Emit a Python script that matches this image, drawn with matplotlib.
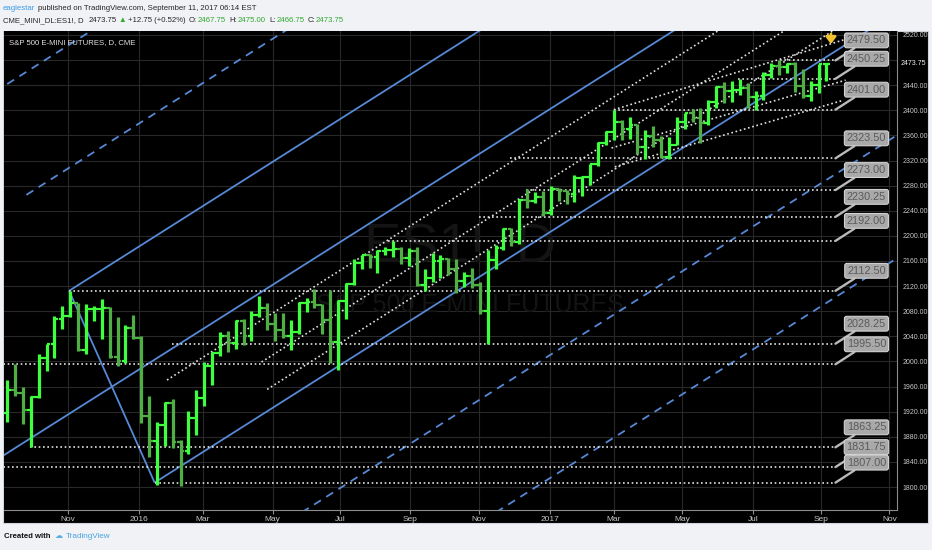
import matplotlib
matplotlib.use("Agg")
import matplotlib.pyplot as plt
import matplotlib.dates as mdates
import numpy as np
import pandas as pd
from matplotlib import font_manager
from matplotlib.patches import Rectangle
from matplotlib.transforms import IdentityTransform

# weekly ES1! bars (week ending Friday)
week_end = pd.date_range("2015-09-11", "2017-09-08", freq="W-FRI")
opens = [1918, 1955, 1950, 1922, 1944, 2006, 2027, 2068, 2073, 2093, 2018, 2083, 2084, 2085, 2007, 2000,
         2054, 2038, 1913, 1874, 1899, 1934, 1871, 1858, 1910, 1941, 1993, 2014, 2040, 2029, 2065, 2040,
         2074, 2085, 2059, 2050, 2041, 2047, 2093, 2094, 2090, 2066, 2031, 2097, 2123, 2156, 2169, 2167,
         2176, 2178, 2179, 2165, 2176, 2122, 2133, 2160, 2163, 2148, 2128, 2136, 2121, 2080, 2161, 2180,
         2211, 2190, 2257, 2256, 2262,
         2236, 2274, 2271, 2267, 2292, 2294, 2314, 2348, 2366, 2381, 2370, 2376, 2341, 2359, 2352, 2326,
         2345, 2381, 2395, 2387, 2379, 2413, 2437, 2430, 2432, 2436, 2421, 2423, 2457, 2470, 2469, 2473,
         2438, 2422, 2440, 2473]
highs = [1970, 1995.5, 1960, 1945, 2012, 2027, 2072, 2088, 2112.5, 2093, 2091, 2089, 2100, 2086, 2071, 2058,
         2074, 2040, 1945, 1903, 1935, 1940, 1875, 1921, 1955, 1999, 2015, 2047, 2048, 2066, 2068, 2080,
         2104, 2093, 2077, 2077, 2066, 2094, 2101, 2115, 2092, 2114, 2098, 2125, 2163, 2170, 2171, 2177,
         2183, 2192, 2182, 2180, 2183, 2147, 2173, 2169, 2164, 2163, 2143, 2149, 2126, 2177, 2186, 2212,
         2212, 2258, 2275, 2270, 2271,
         2279, 2277, 2273, 2297, 2296, 2315, 2350, 2367, 2401, 2384, 2389, 2378, 2368, 2375, 2359, 2357,
         2390, 2396, 2402, 2403, 2416, 2439, 2445, 2446, 2450.25, 2443, 2430, 2461, 2475, 2479.5, 2476, 2477,
         2466, 2447, 2474, 2475]
lows = [1903, 1945, 1900, 1863.25, 1942, 1985, 2006, 2051, 2070, 2017, 2012, 2064, 2036, 2005, 1993, 1997,
        2035, 1902, 1848, 1804, 1866, 1862, 1802, 1852, 1883, 1929, 1962, 2008, 2015, 2020, 2026, 2032,
        2070, 2050, 2033, 2038, 2019, 2044, 2079, 2085, 2043, 1998, 1986, 2068, 2122, 2148, 2149, 2141,
        2169, 2167, 2155, 2152, 2120, 2112, 2127, 2133, 2137, 2109, 2118, 2117, 2075, 2028.25, 2148, 2178,
        2184, 2187, 2245, 2252, 2232,
        2234, 2255, 2251, 2254, 2264, 2281, 2312, 2345, 2353, 2352, 2354, 2330, 2322, 2341, 2323.5, 2322,
        2345, 2371, 2382, 2348, 2376, 2404, 2412, 2413, 2424, 2403, 2401, 2417, 2451, 2456, 2460, 2429,
        2419, 2415, 2427, 2446]
closes = [1955, 1950, 1922, 1944, 2006, 2027, 2068, 2073, 2093, 2018, 2083, 2084, 2085, 2007, 2000, 2054,
          2038, 1913, 1874, 1899, 1934, 1871, 1858, 1910, 1941, 1993, 2014, 2040, 2029, 2065, 2040, 2074,
          2085, 2059, 2050, 2041, 2047, 2093, 2094, 2090, 2066, 2031, 2097, 2123, 2156, 2169, 2167, 2176,
          2178, 2179, 2165, 2176, 2122, 2133, 2160, 2163, 2148, 2128, 2136, 2121, 2080, 2161, 2180, 2211,
          2190, 2257, 2256, 2262, 2236,
          2274, 2271, 2267, 2292, 2294, 2314, 2348, 2366, 2381, 2370, 2376, 2341, 2359, 2352, 2326, 2345,
          2381, 2395, 2387, 2379, 2413, 2437, 2430, 2432, 2436, 2421, 2423, 2457, 2470, 2469, 2473, 2438,
          2422, 2440, 2473, 2473.75]

# horizontal price levels and the date each dotted level starts
levels = [2479.50, 2450.25, 2401.00, 2323.50, 2273.00, 2230.25, 2192.00,
          2112.50, 2028.25, 1995.50, 1863.25, 1831.75, 1807.00]
level_start = ["2017-07-27", "2017-06-19", "2017-03-01", "2016-11-29", "2016-12-13", "2016-11-01",
               "2016-08-12", "2015-11-03", "2016-02-02", "2015-08-20", "2015-09-29", "2015-08-20",
               "2016-01-18"]
level_end = "2017-09-14"

# parallel channel anchors
chan_top = ("2015-11-03", 2112.50)
chan_top_ref = ("2016-10-31", 2524.8)
chan_low = ("2016-01-18", 1807.00)
mid_start = "2015-08-20"
ext_up_start = ["2015-09-09", "2015-09-26"]

# dotted lines parallel to the channel (start date, start price)
inner_lines = [("2016-01-29", 1970.4), ("2016-04-22", 1999.1), ("2016-04-27", 1955.5)]
# dotted fan lines drawn from the March 2017 top
fans = [(("2017-03-01", 2401.0), ("2017-09-21", 2512.0)),
        (("2017-02-27", 2340.0), ("2017-09-23", 2448.0)),
        (("2017-03-02", 2310.0), ("2017-09-21", 2416.0))]

price_ticks = [1800, 1840, 1880, 1920, 1960, 2000, 2040, 2080, 2120, 2160, 2200,
               2240, 2280, 2320, 2360, 2400, 2440, 2520]
grid_prices = price_ticks + [2480]
time_ticks = ["2015-11-02", "2016-01-04", "2016-03-01", "2016-05-02", "2016-07-01", "2016-09-01",
              "2016-11-01", "2017-01-03", "2017-03-01", "2017-05-01", "2017-07-03", "2017-09-01",
              "2017-11-01"]
time_labels = ["Nov", "2016", "Mar", "May", "Jul", "Sep", "Nov", "2017", "Mar", "May", "Jul", "Sep", "Nov"]
last_price = 2473.75

names = {f.name for f in font_manager.fontManager.ttflist}
narrow = "Liberation Sans Narrow" in names
COND = "Liberation Sans Narrow" if narrow else "Liberation Sans"
k = 1.0 if narrow else 0.82

BLUE = "#5689d6"
DOT = "#e2e2e2"
UP = "#3dff3d"
DN = "#4fae44"

d = mdates.datestr2num
W_PX, H_PX = 932, 550
fig = plt.figure(figsize=(W_PX / 100, H_PX / 100), dpi=100, facecolor="#f0f2f6")
fig.patches.append(Rectangle((3 / W_PX, 27 / H_PX), 925 / W_PX, 492 / H_PX,
                             transform=fig.transFigure, fc="black", ec="#cfd3da", lw=0.8, zorder=-10))
ax = fig.add_axes([4 / W_PX, 40 / H_PX, 893 / W_PX, 479 / H_PX])
ax.set_facecolor("black")

x_nov = d("2015-11-02")
ppd = 1.1253
ax.set_xlim(x_nov - 64 / ppd, x_nov + 829 / ppd)
ax.set_ylim(1763.4, 2526.3)
x_right = x_nov + 829 / ppd

for p in grid_prices:
    ax.axhline(p, color="#282828", lw=0.8, zorder=0.5)
for t in time_ticks:
    ax.axvline(d(t), color="#282828", lw=0.8, zorder=0.5)

# watermark
ax.text(x_nov + 392 / ppd, 2181, "ES1!, D", ha="center", va="center", fontsize=49 * k,
        family=COND, color="#141414", zorder=0.8)
ax.text(x_nov + 402 / ppd, 2090, "S&P 500 E-MINI FUTURES", ha="center", va="center",
        fontsize=22 * k, family=COND, color="#141414", zorder=0.8)

# channel
t0, p0 = d(chan_top[0]), chan_top[1]
slope = (chan_top_ref[1] - p0) / (d(chan_top_ref[0]) - t0)
tl, pl = d(chan_low[0]), chan_low[1]
width = p0 + slope * (tl - t0) - pl


def upper(x):
    return p0 + slope * (np.asarray(x) - t0)


def seg(xa, xb, f, **kw):
    xs = np.array([xa, xb])
    ax.plot(xs, f(xs), **kw)


solid = dict(color=BLUE, lw=1.3, zorder=3, solid_capstyle="butt")
dashed = dict(color=BLUE, lw=1.3, zorder=3, ls=(0, (4.5, 3.5)))
dotted = dict(color=DOT, lw=1.2, zorder=3, ls=(0, (1, 1.6)))

seg(t0, x_right, upper, **solid)
seg(tl, x_right, lambda x: upper(x) - width, **solid)
seg(d(mid_start), x_right, lambda x: upper(x) - width / 2, **solid)
ax.plot([t0, tl], [p0, pl], **solid)
seg(d(ext_up_start[0]), x_right, lambda x: upper(x) + width, **dashed)
seg(d(ext_up_start[1]), x_right, lambda x: upper(x) + width / 2, **dashed)
seg(tl, x_right, lambda x: upper(x) - 1.5 * width, **dashed)
seg(tl, x_right, lambda x: upper(x) - 2 * width, **dashed)

for ds, ps in inner_lines:
    xs = np.array([d(ds), x_right])
    ax.plot(xs, ps + slope * (xs - d(ds)), **dotted)
for (da, pa), (db, pb) in fans:
    ax.plot([d(da), d(db)], [pa, pb], **dotted)

xe = d(level_end)
for lvl, st in zip(levels, level_start):
    ax.plot([d(st), xe], [lvl, lvl], **dotted)

# weekly OHLC bars
xc = mdates.date2num(week_end) - 2
o, h, lo, c = map(np.asarray, (opens, highs, lows, closes))
cols = np.where(c >= o, UP, DN)
ax.vlines(xc, lo, h, colors=cols, lw=2.3, zorder=4)
ax.hlines(o, xc - 3.4, xc, colors=cols, lw=1.6, zorder=4)
ax.hlines(c, xc, xc + 3.4, colors=cols, lw=1.6, zorder=4)

# price callouts
for lvl in levels:
    ax.annotate(f"{lvl:.2f}", xy=(xe, lvl), xytext=(31, 20), textcoords="offset pixels",
                ha="center", va="center", fontsize=9.6 * k, family=COND, color="#5a5a5a",
                bbox=dict(boxstyle="round,pad=0.22,rounding_size=0.2", fc="#a9a9a9", ec="#d2d2d2", lw=0.8),
                arrowprops=dict(arrowstyle="-", color="#b9b9b9", lw=1.7, shrinkA=0, shrinkB=0),
                zorder=8, annotation_clip=False)

ax.annotate("", xy=(d("2017-09-10"), 2501), xytext=(d("2017-09-10"), 2526),
            arrowprops=dict(arrowstyle="-|>,head_width=0.3,head_length=0.4", color="#f3c230", lw=2.0),
            zorder=9)

ax.text(0.006, 0.975, "S&P 500 E-MINI FUTURES, D, CME", transform=ax.transAxes, ha="left", va="center",
        fontsize=6.8 * k, family=COND, color="#e0e0e0", zorder=9)

# axes
for s in ("top", "left"):
    ax.spines[s].set_visible(False)
for s in ("right", "bottom"):
    ax.spines[s].set_color("#8c8c8c")
ax.yaxis.tick_right()
ax.set_yticks(price_ticks)
ax.set_yticklabels([f"{p:.2f}" for p in price_ticks], family=COND, fontsize=6.2 * k, color="#c8c8c8")
ax.tick_params(axis="y", length=0, pad=4)
ax.set_xticks([d(t) for t in time_ticks])
ax.set_xticklabels(time_labels, family=COND, fontsize=7.4 * k, color="#c8c8c8")
ax.tick_params(axis="x", length=3, color="#8c8c8c", pad=1.5)
ax.annotate(f"{last_price:.2f}", xy=(1, last_price), xycoords=("axes fraction", "data"),
            xytext=(4, 0), textcoords="offset pixels", ha="left", va="center",
            fontsize=6.2 * k, family=COND, color="#f0f0f0", annotation_clip=False)

# header and footer text
renderer = fig.canvas.get_renderer()


def text_runs(x, y, runs, size, weight="normal"):
    for s, col, gap in runs:
        t = fig.text(x, y, s, color=col, transform=IdentityTransform(), ha="left", va="center",
                     fontsize=size, family=[COND, "DejaVu Sans"], weight=weight)
        x = t.get_window_extent(renderer).x1 + gap


DARK = "#262626"
GREEN = "#2faa2f"
hs = 6.8 * k
text_runs(3, H_PX - 8, [("eaglestar", "#3b9be6", 3),
                        ("published on TradingView.com, September 11, 2017 06:14 EST", DARK, 0)], hs)
text_runs(3, H_PX - 21, [("CME_MINI_DL:ES1!, D", DARK, 5), ("2473.75", DARK, 2), ("▲", GREEN, 2),
                         ("+12.75 (+0.52%)", DARK, 3), ("O:", DARK, 1), ("2467.75", GREEN, 3),
                         ("H:", DARK, 1), ("2475.00", GREEN, 3), ("L:", DARK, 1), ("2466.75", GREEN, 3),
                         ("C:", DARK, 1), ("2473.75", GREEN, 0)], hs)
text_runs(4, H_PX - 537, [("Created with", "#111111", 5)], 6.8 * k, weight="bold")
text_runs(55, H_PX - 537, [("☁", "#55aee6", 3), ("TradingView", "#4aa3df", 0)], 7.2 * k)

fig.savefig("out.png", dpi=100, facecolor=fig.get_facecolor())
